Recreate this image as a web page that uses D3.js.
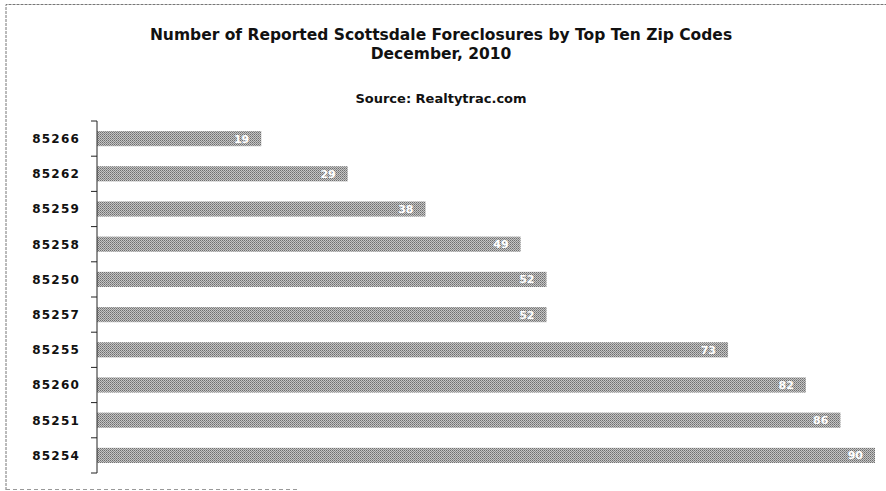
<!DOCTYPE html>
<html>
<head>
<meta charset="utf-8">
<script src="https://cdn.jsdelivr.net/npm/d3@7"></script>
<style>
  body { margin: 0; background: #fff; }
  svg { display: block; }
</style>
</head>
<body>
<div id="chart"></div>
<script>
var zips = ['85266', '85262', '85259', '85258', '85250', '85257', '85255', '85260', '85251', '85254'];
var counts = [19, 29, 38, 49, 52, 52, 73, 82, 86, 90];
var titleLines = ['Number of Reported Scottsdale Foreclosures by Top Ten Zip Codes', 'December, 2010'];
var sourceText = 'Source: Realtytrac.com';

var width = 886,
    height = 491,
    plotLeft = 97,
    plotTop = 121,
    plotBottom = 473;

var svg = d3.select('#chart').append('svg')
    .attr('width', width)
    .attr('height', height);

// dithered grey fill like the scanned original
var defs = svg.append('defs');
var pat = defs.append('pattern')
    .attr('id', 'dither')
    .attr('width', 2)
    .attr('height', 2)
    .attr('patternUnits', 'userSpaceOnUse');
pat.append('rect').attr('width', 2).attr('height', 2).attr('fill', '#c4c4c4');
pat.append('rect').attr('width', 1).attr('height', 1).attr('fill', '#6e6e6e');
pat.append('rect').attr('x', 1).attr('y', 1).attr('width', 1).attr('height', 1).attr('fill', '#8a8a8a');

// frame
svg.append('path')
    .attr('d', 'M6,' + (height - 1) + 'V4.5H' + width)
    .attr('fill', 'none')
    .attr('stroke', '#777')
    .attr('stroke-dasharray', '3,1');
svg.append('line')
    .attr('x1', 6).attr('x2', 300)
    .attr('y1', 489.5).attr('y2', 489.5)
    .attr('stroke', '#999')
    .attr('stroke-dasharray', '4,3');

var x = d3.scaleLinear()
    .domain([0, 90])
    .range([plotLeft, 875]);

var y = d3.scaleBand()
    .domain(zips)
    .range([plotTop, plotBottom])
    .paddingInner(0.57)
    .paddingOuter(0.285);

svg.selectAll('.title')
    .data(titleLines)
    .enter().append('text')
    .attr('class', 'title')
    .attr('x', 441)
    .attr('y', function (d, i) { return 40 + i * 19; })
    .attr('text-anchor', 'middle')
    .style('font-family', '"DejaVu Sans", sans-serif')
    .style('font-weight', 'bold')
    .style('font-size', '15.5px')
    .attr('fill', '#111')
    .text(function (d) { return d; });

svg.append('text')
    .attr('x', 441)
    .attr('y', 103)
    .attr('text-anchor', 'middle')
    .style('font-family', '"DejaVu Sans", sans-serif')
    .style('font-weight', 'bold')
    .style('font-size', '13px')
    .attr('fill', '#111')
    .text(sourceText);

svg.selectAll('.bar')
    .data(counts)
    .enter().append('rect')
    .attr('class', 'bar')
    .attr('x', x(0))
    .attr('y', function (d, i) { return y(zips[i]); })
    .attr('width', function (d) { return x(d) - x(0); })
    .attr('height', y.bandwidth())
    .attr('fill', 'url(#dither)');

svg.selectAll('.val')
    .data(counts)
    .enter().append('text')
    .attr('class', 'val')
    .attr('x', function (d) { return x(d) - 12; })
    .attr('y', function (d, i) { return y(zips[i]) + y.bandwidth() / 2; })
    .attr('dy', '0.36em')
    .attr('text-anchor', 'end')
    .style('font-family', '"DejaVu Sans", sans-serif')
    .style('font-weight', 'bold')
    .style('font-size', '11px')
    .attr('fill', '#fff')
    .text(function (d) { return d; });

// category axis
var axis = svg.append('g')
    .attr('transform', 'translate(' + plotLeft + ',0)');
axis.append('line')
    .attr('y1', plotTop).attr('y2', plotBottom)
    .attr('stroke', '#222');
axis.selectAll('.tick')
    .data(d3.range(zips.length + 1))
    .enter().append('line')
    .attr('class', 'tick')
    .attr('x1', -6).attr('x2', 0)
    .attr('y1', function (i) { return plotTop + i * y.step(); })
    .attr('y2', function (i) { return plotTop + i * y.step(); })
    .attr('stroke', '#222');

svg.selectAll('.zip')
    .data(zips)
    .enter().append('text')
    .attr('class', 'zip')
    .attr('x', 80)
    .attr('y', function (d) { return y(d) + y.bandwidth() / 2; })
    .attr('dy', '0.36em')
    .attr('text-anchor', 'end')
    .style('font-family', '"DejaVu Sans", sans-serif')
    .style('font-weight', 'bold')
    .style('font-size', '12px')
    .style('letter-spacing', '1.2px')
    .attr('fill', '#111')
    .text(function (d) { return d; });
</script>
</body>
</html>
